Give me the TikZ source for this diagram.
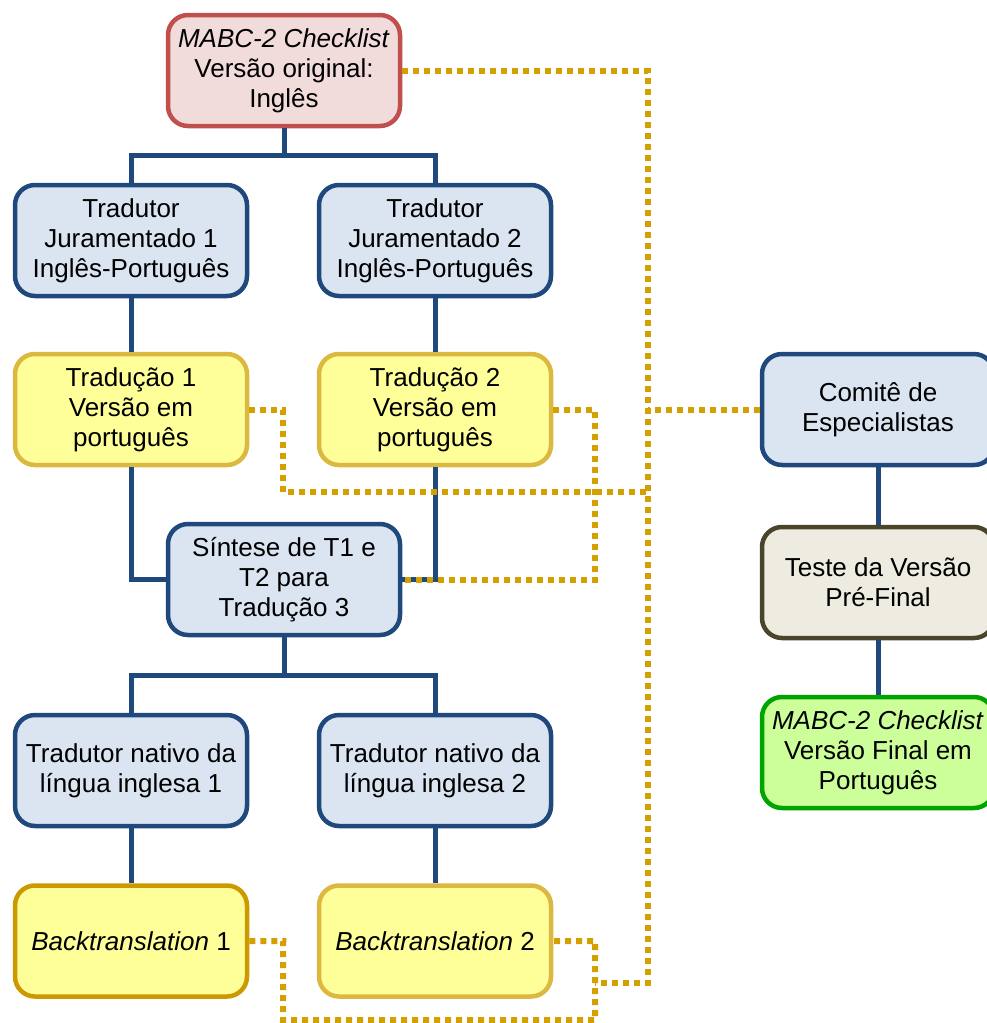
\documentclass[tikz,border=0pt]{standalone}
\usepackage{fontspec}
\setmainfont{Liberation Sans}
\definecolor{bluebd}{HTML}{1F497D}
\definecolor{bluefill}{HTML}{DBE5F1}
\definecolor{yelfill}{HTML}{FFFF99}
\definecolor{yelbd}{HTML}{DDB840}
\definecolor{yelbdd}{HTML}{CC9900}
\definecolor{redbd}{HTML}{C0504D}
\definecolor{redfill}{HTML}{F2DCDB}
\definecolor{olivebd}{HTML}{4A452A}
\definecolor{olivefill}{HTML}{EEECE1}
\definecolor{greenbd}{HTML}{00A400}
\definecolor{greenfill}{HTML}{CCFF99}
\definecolor{dotc}{HTML}{D4A000}
\begin{document}
\begin{tikzpicture}[x=1pt,y=-1pt,
  box/.style={draw, rounded corners=20pt, line width=4.5pt, minimum width=232pt, minimum height=111pt,
    align=center, inner sep=0pt, font=\fontsize{26}{30}\selectfont},
  bluebox/.style={box, draw=bluebd, fill=bluefill},
  yelbox/.style={box, draw=yelbd, fill=yelfill},
  yelboxd/.style={box, draw=yelbdd, fill=yelfill},
  redbox/.style={box, draw=redbd, fill=redfill},
  olivebox/.style={box, draw=olivebd, fill=olivefill},
  greenbox/.style={box, draw=greenbd, fill=greenfill},
  conn/.style={draw=bluebd, line width=5pt},
  dotl/.style={draw=dotc, line width=6pt, dash pattern=on 6pt off 5pt}
]
\useasboundingbox (0,0) rectangle (987,1023);
\node[redbox] (top) at (284,70.5) {\textit{MABC-2 Checklist}\\Versão original:\\Inglês};
\node[bluebox] (J1) at (131,240.5) {Tradutor\\Juramentado 1\\Inglês-Português};
\node[bluebox] (J2) at (435,240.5) {Tradutor\\Juramentado 2\\Inglês-Português};
\node[yelbox] (T1) at (131,409.5) {Tradução 1\\Versão em\\português};
\node[yelbox] (T2) at (435,409.5) {Tradução 2\\Versão em\\português};
\node[bluebox] (S) at (284,579.5) {Síntese de T1 e\\T2 para\\Tradução 3};
\node[bluebox] (N1) at (131,770.5) {Tradutor nativo da\\língua inglesa 1};
\node[bluebox] (N2) at (435,770.5) {Tradutor nativo da\\língua inglesa 2};
\node[yelboxd] (B1) at (131,941) {\textit{Backtranslation} 1};
\node[yelbox] (B2) at (435,941) {\textit{Backtranslation} 2};
\node[bluebox] (C) at (878,409.5) {Comitê de\\Especialistas};
\node[olivebox] (Te) at (878,582.5) {Teste da Versão\\Pré-Final};
\node[greenbox] (F) at (878,752.5) {\textit{MABC-2 Checklist}\\Versão Final em\\Português};

\coordinate (h1) at (284,155);
\coordinate (h2) at (284,675);
\draw[conn] (top.south) -- (h1);
\draw[conn] (h1) -| (J1.north);
\draw[conn] (h1) -| (J2.north);
\draw[conn] (J1) -- (T1);
\draw[conn] (J2) -- (T2);
\draw[conn] (T1.south) |- (S.west);
\draw[conn] (T2.south) |- (S.east);
\draw[conn] (S.south) -- (h2);
\draw[conn] (h2) -| (N1.north);
\draw[conn] (h2) -| (N2.north);
\draw[conn] (N1) -- (B1);
\draw[conn] (N2) -- (B2);
\draw[conn] (C) -- (Te);
\draw[conn] (Te) -- (F);

\coordinate (va) at (648,70.5);
\coordinate (vb) at (648,983);
\coordinate (vc) at (595,983);
\coordinate (vd) at (648,409.5);
\coordinate (ve) at (648,492);
\coordinate (vf) at (283,1020);
\coordinate (vg) at (595,1020);
\draw[dotl] (top.east) -- (va) -- (vb) -- (vc);
\draw[dotl] (C.west) -- (vd);
\draw[dotl] (T1.east) -- ++(34,0) |- (ve);
\draw[dotl] (T2.east) -- ++(42,0) |- (S.east);
\draw[dotl] (B1.east) -- ++(34,0) -- (vf) -- (vg) |- (B2.east);
\end{tikzpicture}
\end{document}
